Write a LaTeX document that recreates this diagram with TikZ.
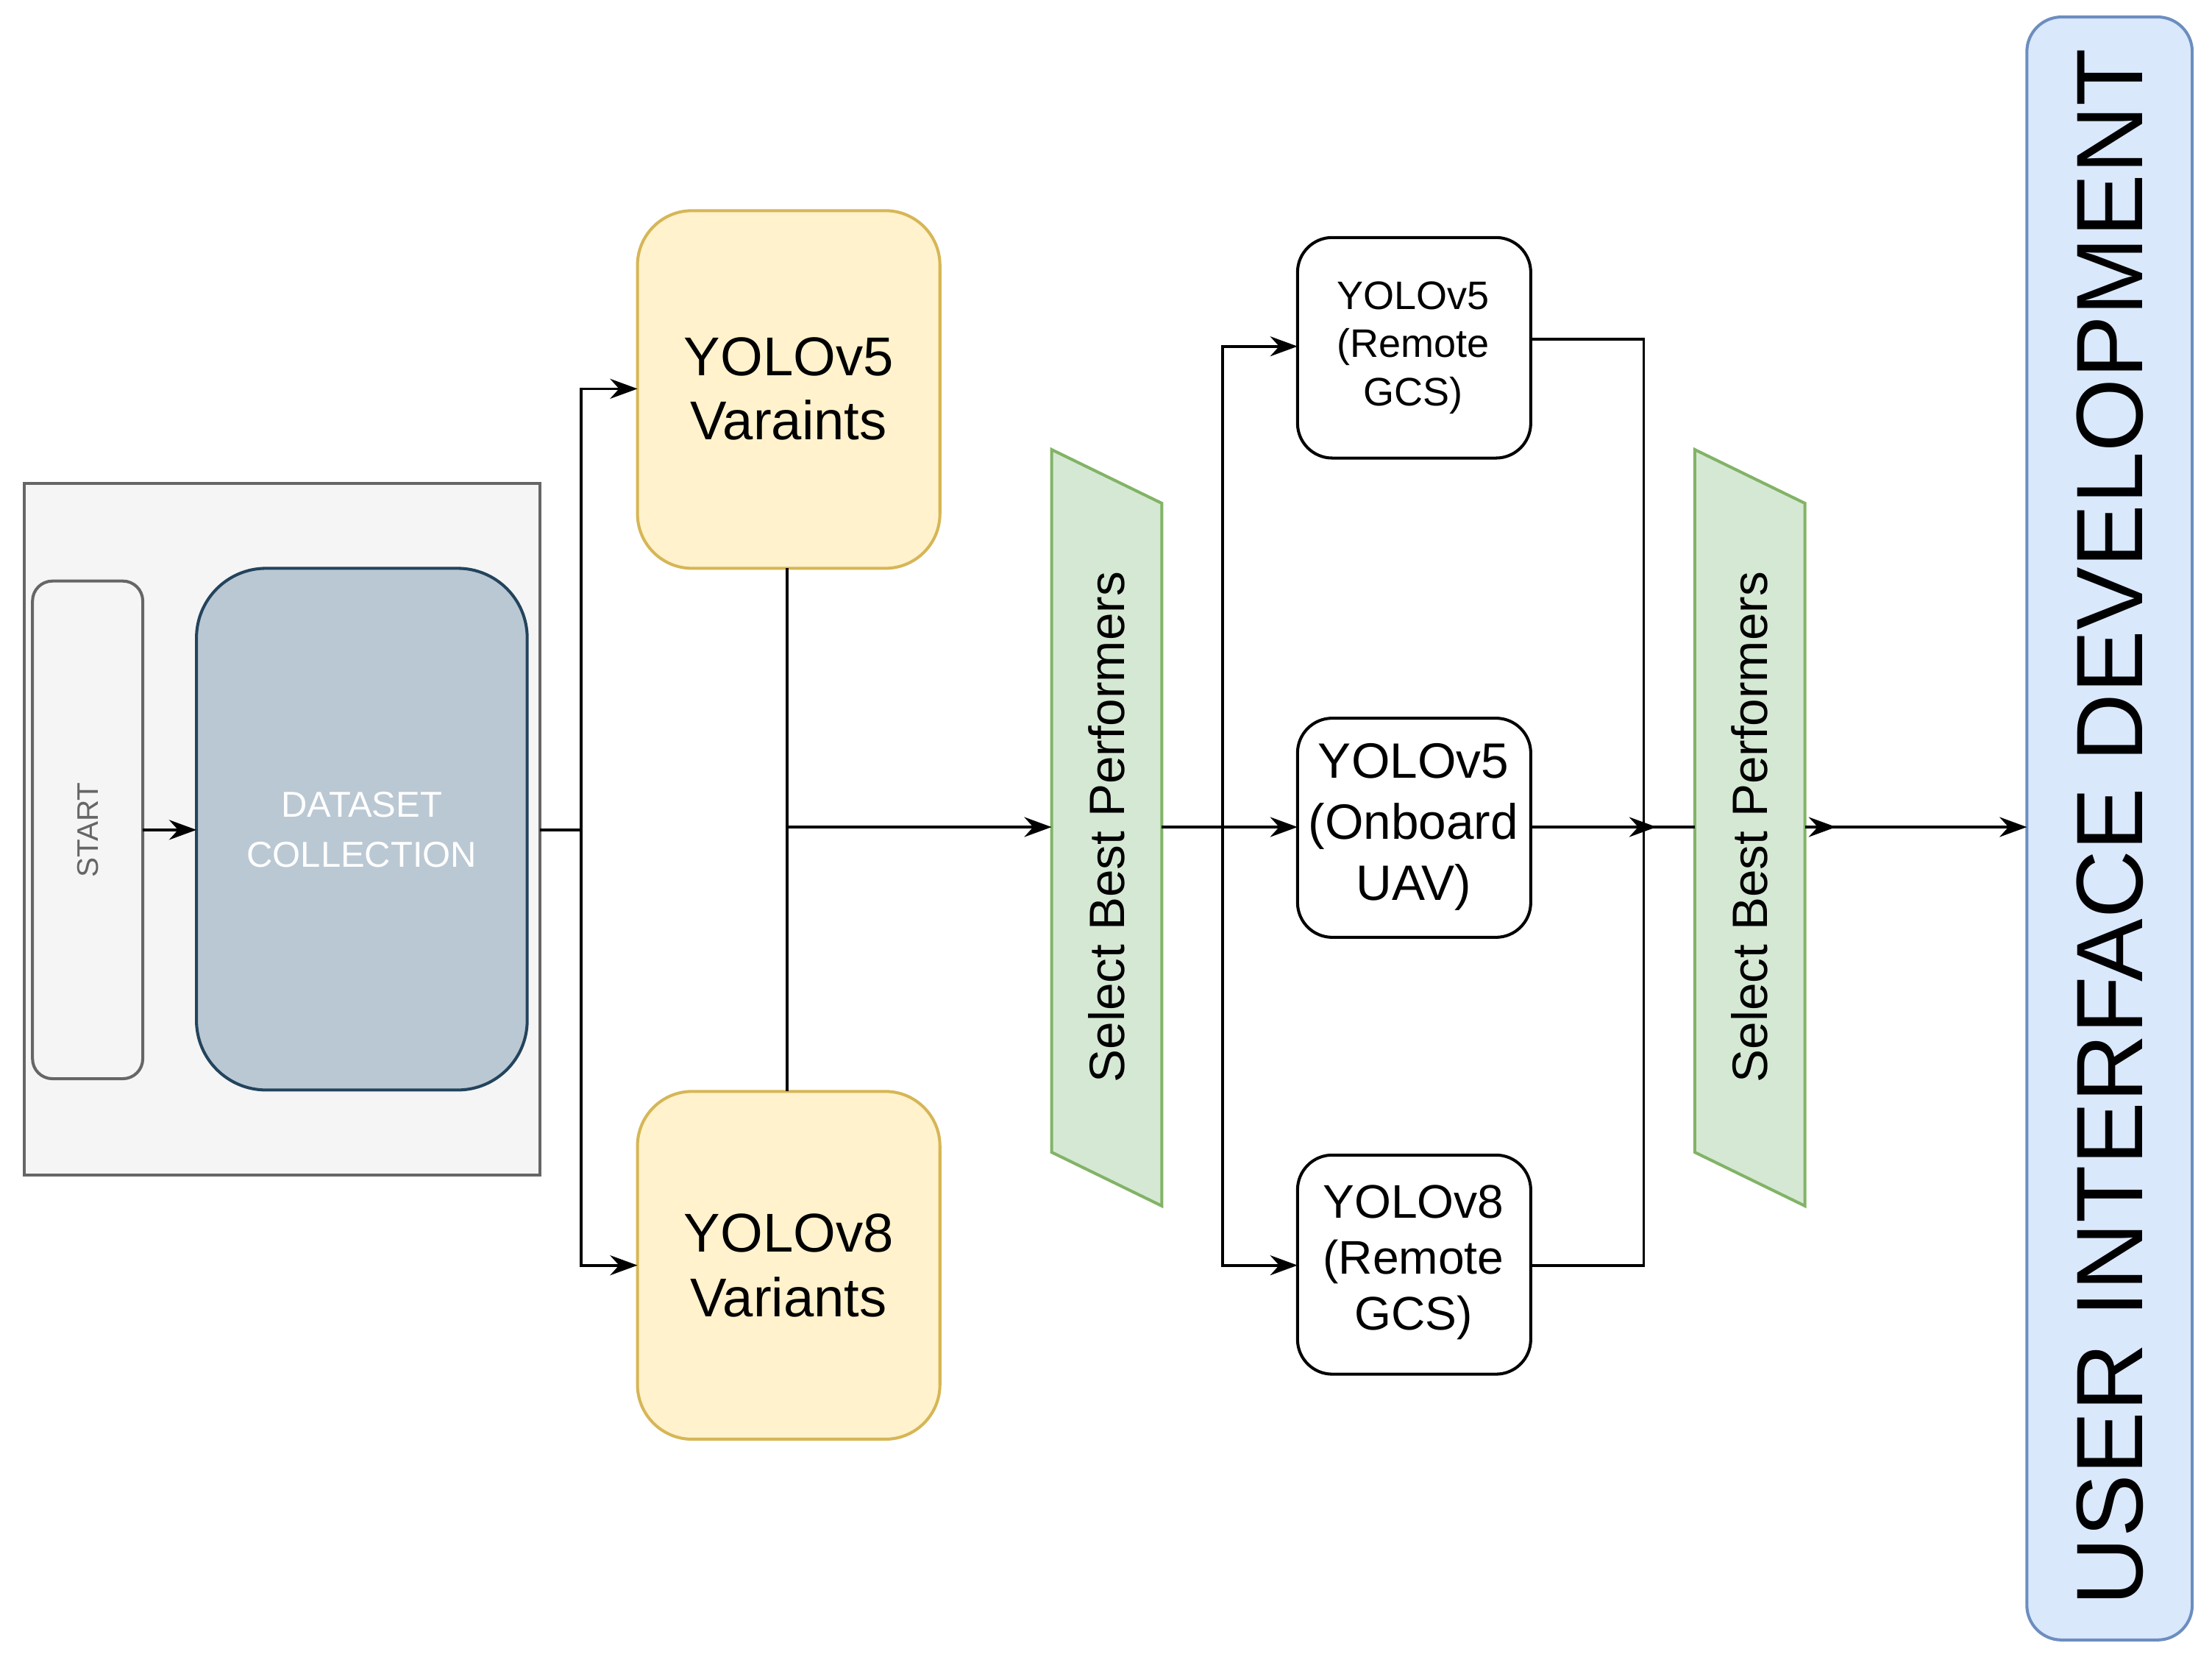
\documentclass[tikz,border=0pt]{standalone}
\usepackage{fontspec}
\setmainfont{Liberation Sans}
\usetikzlibrary{arrows.meta,decorations.markings}
\definecolor{grayF}{HTML}{F5F5F5}\definecolor{grayD}{HTML}{666666}
\definecolor{dsF}{HTML}{BAC8D3}\definecolor{dsD}{HTML}{23445D}
\definecolor{yF}{HTML}{FFF2CC}\definecolor{yD}{HTML}{D6B656}
\definecolor{gF}{HTML}{D5E8D4}\definecolor{gD}{HTML}{82B366}
\definecolor{bF}{HTML}{DAE8FC}\definecolor{bD}{HTML}{6C8EBF}
\begin{document}
\begin{tikzpicture}[x=0.02cm,y=-0.02cm,
  box/.style={draw,line width=1.2pt,rounded corners=#1,inner sep=0pt},
  arr/.style={-{Stealth[length=11pt,width=8pt]},line width=1.1pt},
  ln/.style={line width=1.1pt}]
\useasboundingbox (0,0) rectangle (1565,1172);
% container
\draw[fill=grayF,draw=grayD,line width=1.2pt] (17,342) rectangle (382,831);
\coordinate (cR) at (382,587);
\draw[box=8pt,draw=grayD,fill=grayF] (23,411) rectangle (101,763);
\node[rotate=90,text=grayD,font=\fontsize{12}{14}\selectfont] (start) at (62,587) {START};
\draw[box=28pt,draw=dsD,fill=dsF] (139,402) rectangle (373,771);
\node[text=white,align=center,font=\fontsize{14.5}{20}\selectfont] (ds) at (256,587) {DATASET\\COLLECTION};
\draw[arr] (101,587) -- (139,587);
% yolo variants
\draw[box=22pt,draw=yD,fill=yF] (451,149) rectangle (665,402);
\node[align=center,font=\fontsize{22}{26}\selectfont] (y5) at (558,275) {YOLOv5\\Varaints};
\draw[box=22pt,draw=yD,fill=yF] (451,772) rectangle (665,1018);
\node[align=center,font=\fontsize{22}{26}\selectfont] (y8) at (558,895) {YOLOv8\\Variants};
\draw[ln] (cR) -- (411,587);
\draw[arr] (411,587) |- (451,275);
\draw[arr] (411,587) |- (451,895);
\draw[ln] (557,402) -- (557,772);
% select 1
\draw[fill=gF,draw=gD,line width=1.2pt] (744,318) -- (822,356) -- (822,853) -- (744,815) -- cycle;
\node[rotate=90,font=\fontsize{20}{24}\selectfont] (s1) at (783,585) {Select Best Performers};
\draw[arr] (557,585) -- (744,585);
% boxes
\draw[box=14pt,fill=white] (918,168) rectangle (1083,324);
\node[align=center,font=\fontsize{16}{19.5}\selectfont] (b1) at (1000,246) {YOLOv5\\(Remote\\GCS)};
\draw[box=14pt,fill=white] (918,508) rectangle (1083,663);
\node[align=center,font=\fontsize{20}{24.5}\selectfont] (b2) at (1000,585) {YOLOv5\\(Onboard\\UAV)};
\draw[box=14pt,fill=white] (918,817) rectangle (1083,972);
\node[align=center,font=\fontsize{19}{22.5}\selectfont] (b3) at (1000,893) {YOLOv8\\(Remote\\GCS)};
\draw[arr] (822,585) -- (918,585);
\draw[arr] (865,585) |- (918,245);
\draw[arr] (865,585) |- (918,895);
\draw[ln] (1083,240) -| (1163,895) -- (1083,895);
% select 2
\draw[fill=gF,draw=gD,line width=1.2pt] (1199,318) -- (1277,356) -- (1277,853) -- (1199,815) -- cycle;
\node[rotate=90,font=\fontsize{20}{24}\selectfont] (s2) at (1238,585) {Select Best Performers};
\draw[arr] (1083,585) -- (1172,585);
\draw[ln] (1163,585) -- (1199,585);
% UI
\draw[box=14pt,draw=bD,fill=bF] (1434,12) rectangle (1551,1160);
\node[rotate=90,font=\fontsize{38}{44}\selectfont] (ui) at (1493,585) {USER INTERFACE DEVELOPMENT};
\draw[arr] (1277,585) -- (1299,585);
\draw[arr] (1290,585) -- (1434,585);
\end{tikzpicture}
\end{document}
